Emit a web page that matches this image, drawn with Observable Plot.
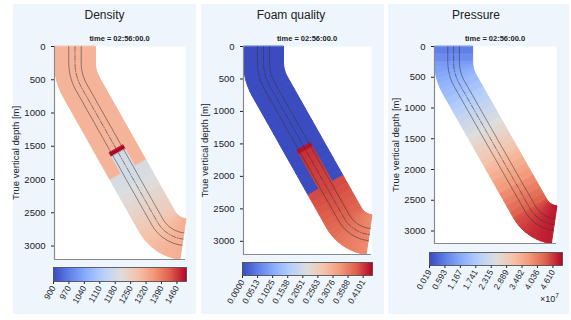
<!DOCTYPE html>
<html><head><meta charset="utf-8">
<script src="https://cdn.jsdelivr.net/npm/d3@7"></script>
<script src="https://cdn.jsdelivr.net/npm/@observablehq/plot@0.6"></script>
<style>
body{margin:0;background:#fff;font-family:"Liberation Sans",Arial,sans-serif;}
#fig{position:relative;width:571px;height:320px;overflow:hidden;background:#fff}
.panel{position:absolute;background:#eef5fd}
.title{position:absolute;font-size:12px;line-height:14px;color:#222;white-space:nowrap;transform:translateX(-50%)}
.sub{position:absolute;font-size:7.5px;line-height:9px;font-weight:bold;color:#222;white-space:nowrap;transform:translateX(-50%)}
.abs{position:absolute}
.exp{position:absolute;font-size:9px;color:#222;white-space:nowrap}
</style></head><body><div id="fig"></div><script>
// ---- data: wellbore survey stations (TVD [m], horizontal displacement [m]) ----
const stationTVD = [0,125,250,313,376,438,499,558,609,700,800,900,1000,1100,1200,1300,1400,1500,1540,1600,1700,1800,1860,1950,2050,2140,2250,2350,2450,2550,2637,2679,2715,2748,2779,2806,2830,2851,2869,2882,2892,2896];
const stationDisp = [0,0,0,2.8,11.1,24.8,43.9,68.2,94.4,146,203,259,316,373,429,486,542,599,621,655,712,769,803,853,910,961,1023,1080,1136,1193,1242,1268.5,1296,1327,1360,1396,1434,1474,1516,1559,1603,1630];
// density [kg/m3] per segment (annulus and inside the string)
const densityAnnulus = [1305,1305,1305,1305,1305,1305,1305,1305,1305,1305,1305,1305,1305,1305,1305,1305,1305,1305,1305,1305,1305,1305,1188,1192,1200,1210,1222,1235,1247,1258,1268,1275,1282,1288,1294,1299,1303,1307,1310,1313,1315,1316];
const densityPipe = [1305,1305,1305,1305,1305,1305,1305,1305,1305,1305,1305,1305,1305,1305,1305,1305,1305,1305,1505,1183,1183,1183,1183,1183,1200,1210,1222,1235,1247,1258,1268,1275,1282,1288,1294,1299,1303,1307,1310,1313,1315,1316];
// foam quality [-]
const foamAnnulus = [0,0,0,0,0,0,0,0,0,0,0,0,0,0,0,0,0,0,0,0,0,0,0,0,0,0.400,0.396,0.392,0.388,0.384,0.380,0.376,0.372,0.368,0.364,0.361,0.358,0.355,0.352,0.350,0.348,0.347];
const foamPipe = [0,0,0,0,0,0,0,0,0,0,0,0,0,0,0,0,0,0,0.435,0.415,0.412,0.410,0.408,0.406,0.404,0.402,0.398,0.394,0.390,0.386,0.382,0.378,0.374,0.370,0.366,0.363,0.360,0.357,0.354,0.352,0.350,0.349];
// pressure [x1e7 Pa]
const pressure = [0.60,0.78,0.97,1.06,1.15,1.24,1.33,1.41,1.49,1.62,1.77,1.91,2.06,2.21,2.35,2.50,2.64,2.79,2.85,2.94,3.08,3.23,3.32,3.45,3.59,3.72,3.89,4.03,4.18,4.32,4.45,4.51,4.56,4.61,4.66,4.70,4.73,4.76,4.79,4.81,4.82,4.83];
// tick labels
const depthTicks = [0,500,1000,1500,2000,2500,3000];
const densityTicks = [900,970,1040,1110,1180,1250,1320,1390,1460];
const foamTicks = [0.0000,0.0513,0.1025,0.1538,0.2051,0.2563,0.3076,0.3588,0.4101];
const pressureTicks = [0.019,0.593,1.167,1.741,2.315,2.889,3.462,4.036,4.610];
const titles = ["Density","Foam quality","Pressure"];
const subtitle = "time = 02:56:00.0";
const yLabel = "True vertical depth [m]";

// ---- geometry helpers ----
const coolwarm = ["#3b4cc0","#6282ea","#8db0fe","#b8d0f9","#dddddd","#f5c4ac","#f49a7b","#de604d","#b40426"];
const stops = (lo, hi) => coolwarm.map((_, i) => lo + (hi - lo) * i / (coolwarm.length - 1));
const BAND = 309, PIPE = 120, WALL = 94;
const P = stationTVD.map((t, i) => ({x: stationDisp[i], y: t}));
const tang = P.map((p, i) => {
  const a = P[Math.max(0, i - 1)], b = P[Math.min(P.length - 1, i + 1)];
  const dx = b.x - a.x, dy = b.y - a.y, L = Math.hypot(dx, dy);
  return {ux: dx / L, uy: dy / L};
});
const offsetPath = w => P.map((p, i) => ({x: p.x - w * tang[i].uy, y: p.y + w * tang[i].ux}));
function quads(w, vals, skip) {
  const L = offsetPath(w), R = offsetPath(-w), out = [];
  for (let i = 0; i < P.length - 1; i++) {
    if (skip && skip[i] === vals[i]) continue;
    for (const q of [L[i], L[i + 1], R[i + 1], R[i]]) out.push({id: i, x: q.x, y: q.y, v: vals[i]});
  }
  return out;
}
const XD = [-BAND, 1668], YD = [0, 3203];
const font = "'Liberation Sans', Arial, sans-serif";

const panels = [
  {box: [13, 4, 183, 310], plot: [54, 46, 131, 213], bar: [53, 267, 133, 14], titleX: 104.5,
   ann: densityAnnulus, pipe: densityPipe, ticks: densityTicks, fmt: d => String(d), step: 70},
  {box: [201, 4, 183, 310], plot: [243, 46, 128, 208], bar: [242, 262, 130, 13], titleX: 291,
   ann: foamAnnulus, pipe: foamPipe, ticks: foamTicks, fmt: d => d.toFixed(4), step: 0.05126},
  {box: [388, 4, 181, 310], plot: [434, 46, 122, 197], bar: [429, 252, 133, 13], titleX: 476,
   ann: pressure, pipe: pressure, ticks: pressureTicks, fmt: d => d.toFixed(3), step: 0.574, exp: true}
];

const fig = document.getElementById("fig");
panels.forEach((c, k) => {
  const box = document.createElement("div");
  box.className = "panel";
  Object.assign(box.style, {left: c.box[0] + "px", top: c.box[1] + "px", width: c.box[2] + "px", height: c.box[3] + "px"});
  fig.appendChild(box);

  const lo = c.ticks[0], hi = c.ticks[0] + c.step * 8.62;
  const color = {type: "linear", domain: stops(lo, hi), range: coolwarm, clamp: true};

  const t = document.createElement("div");
  t.className = "title"; t.textContent = titles[k];
  Object.assign(t.style, {left: c.titleX + "px", top: "8px"});
  fig.appendChild(t);
  const s = document.createElement("div");
  s.className = "sub"; s.textContent = subtitle;
  Object.assign(s.style, {left: (c.plot[0] + c.plot[2] / 2) + "px", top: "34px"});
  fig.appendChild(s);

  const ML = 50, MT = 4, MR = 4, MB = 4;
  const [pl, pt, pw, ph] = c.plot;
  const main = Plot.plot({
    width: pw + ML + MR, height: ph + MT + MB,
    marginLeft: ML, marginTop: MT, marginRight: MR, marginBottom: MB,
    style: {background: "transparent", fontFamily: font, fontSize: "9.5px", color: "#222"},
    x: {domain: XD, axis: null},
    y: {domain: YD, reverse: true, ticks: depthTicks, tickFormat: d => String(d), tickSize: 3,
        label: yLabel, labelAnchor: "center", labelOffset: 42, labelArrow: "none"},
    color,
    marks: [
      Plot.frame({fill: "white", stroke: null}),
      Plot.line(quads(BAND, c.ann), {x: "x", y: "y", z: "id", fill: "v", stroke: "v", strokeWidth: 1, strokeLinejoin: "round", curve: "linear-closed"}),
      Plot.line(quads(PIPE, c.pipe, c.ann), {x: "x", y: "y", z: "id", fill: "v", stroke: "v", strokeWidth: 0.8, strokeLinejoin: "round", curve: "linear-closed"}),
      Plot.line(offsetPath(WALL), {x: "x", y: "y", stroke: "#333", strokeOpacity: 0.7, strokeWidth: 0.75}),
      Plot.line(offsetPath(-WALL), {x: "x", y: "y", stroke: "#333", strokeOpacity: 0.7, strokeWidth: 0.75}),
      Plot.line(P, {x: "x", y: "y", stroke: "#333", strokeOpacity: 0.75, strokeWidth: 0.75, strokeDasharray: "5,1.5,1,1.5"}),
      Plot.ruleX([XD[0]], {stroke: "#8a8a8a", strokeWidth: 1.2}),
      Plot.ruleY([YD[1]], {stroke: "#8a8a8a", strokeWidth: 1.2})
    ]
  });
  main.classList.add("abs");
  Object.assign(main.style, {left: (pl - ML) + "px", top: (pt - MT) + "px"});
  fig.appendChild(main);

  const [bl, bt, bw, bh] = c.bar;
  const BL = 30;
  const bar = Plot.plot({
    width: bw + BL + 10, height: bh + 40,
    marginLeft: BL, marginRight: 10, marginTop: 1, marginBottom: 39,
    style: {background: "transparent", fontFamily: font, fontSize: "8.5px", color: "#222"},
    x: {domain: [lo, hi], ticks: c.ticks, tickFormat: c.fmt, tickRotate: -60, tickSize: 3, tickPadding: 2},
    y: {domain: [0, 1], axis: null},
    color,
    marks: [
      Plot.raster({x1: lo, x2: hi, y1: 0, y2: 1, width: 256, height: 1, fill: (x, y) => x}),
      Plot.frame({stroke: "#444", strokeWidth: 0.8})
    ]
  });
  bar.classList.add("abs");
  Object.assign(bar.style, {left: (bl - BL) + "px", top: (bt - 1) + "px"});
  fig.appendChild(bar);

  if (c.exp) {
    const e = document.createElement("div");
    e.className = "exp"; e.innerHTML = "×10<sup style='font-size:6.5px'>7</sup>";
    Object.assign(e.style, {left: "540px", top: "292px"});
    fig.appendChild(e);
  }
});
</script></body></html>
